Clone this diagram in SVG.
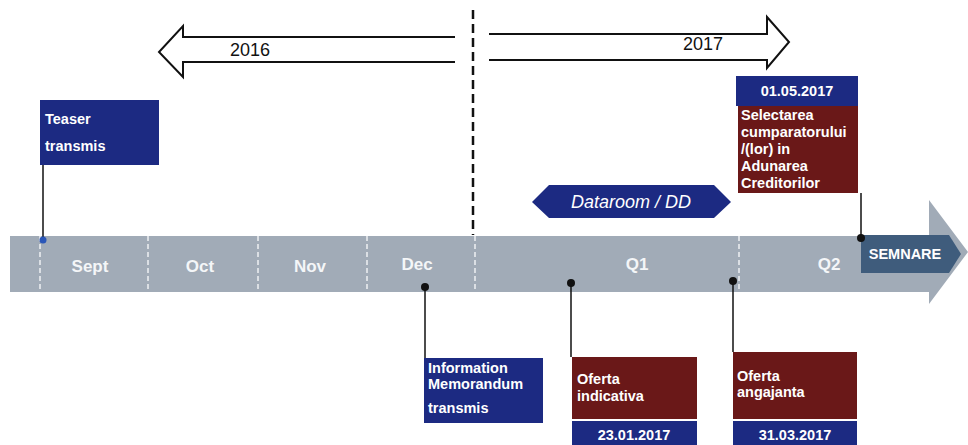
<svg xmlns="http://www.w3.org/2000/svg" width="968" height="445" viewBox="0 0 968 445">
<defs>
<style>
.t{font-family:"Liberation Sans",Arial,sans-serif;font-weight:bold;fill:#fff;font-size:14.5px}
.m{font-family:"Liberation Sans",Arial,sans-serif;font-weight:bold;fill:#f4f6f8;font-size:17px;text-anchor:middle}
.y{font-family:"Liberation Sans",Arial,sans-serif;fill:#111;font-size:18px;text-anchor:middle}
.navy{fill:#1c2a82}
.mar{fill:#6a1818}
.ln{stroke:#111;stroke-width:1.5;fill:none}
.div{stroke:#eef1f4;stroke-width:1.5;stroke-dasharray:5 3}
</style>
</defs>
<rect width="968" height="445" fill="#fff"/>
<g id="timeline">
<path d="M10,236 H929 V200 L968,252 L929,304 V292 H10 Z" fill="#a1abb7"/>
<line class="div" x1="40" y1="236" x2="40" y2="292"/>
<line class="div" x1="148" y1="236" x2="148" y2="292"/>
<line class="div" x1="258" y1="236" x2="258" y2="292"/>
<line class="div" x1="367" y1="236" x2="367" y2="292"/>
<line class="div" x1="475" y1="236" x2="475" y2="292"/>
<line class="div" x1="739" y1="236" x2="739" y2="292"/>
<text class="m" x="90" y="272">Sept</text>
<text class="m" x="200" y="272">Oct</text>
<text class="m" x="310" y="272">Nov</text>
<text class="m" x="417" y="270">Dec</text>
<text class="m" x="637" y="270">Q1</text>
<text class="m" x="829" y="270">Q2</text>
</g>
<g id="semnare">
<path d="M861,235 H949 L961,254 L949,273 H861 Z" fill="#3f5c7c"/>
<text class="t" x="905" y="259" text-anchor="middle" font-size="13">SEMNARE</text>
</g>
<g id="arrow2016">
<path d="M455,37 H183 V26 L159,52 L183,77 V62 H455" fill="#fff" stroke="#111" stroke-width="2"/>
<text class="y" x="250" y="56">2016</text>
</g>
<g id="arrow2017">
<path d="M489,34 H767 V17 L789,42 L767,68 V60 H489" fill="#fff" stroke="#111" stroke-width="2"/>
<text class="y" x="703" y="50">2017</text>
</g>
<g id="divider">
<line x1="473" y1="10" x2="473" y2="235" stroke="#111" stroke-width="2.5" stroke-dasharray="9 5"/>
</g>
<g id="dataroom">
<path d="M532,202 L549,185 H714 L731,202 L714,218 H549 Z" class="navy"/>
<text x="631" y="208" text-anchor="middle" font-family="'Liberation Sans',Arial,sans-serif" font-style="italic" font-size="18" fill="#fff">Dataroom / DD</text>
</g>
<g id="teaser">
<rect class="navy" x="40" y="100" width="119" height="65"/>
<text class="t" x="45" y="124">Teaser</text>
<text class="t" x="45" y="151">transmis</text>
</g>
<g id="selectarea">
<rect class="navy" x="736" y="76" width="122" height="30"/>
<text class="t" x="797" y="96" text-anchor="middle">01.05.2017</text>
<rect class="mar" x="738" y="106" width="120" height="87"/>
<text class="t" x="741" y="120">Selectarea</text>
<text class="t" x="741" y="137">cumparatorului</text>
<text class="t" x="741" y="154">/(lor) in</text>
<text class="t" x="741" y="171">Adunarea</text>
<text class="t" x="741" y="188">Creditorilor</text>
</g>
<g id="info-memo">
<rect class="navy" x="424" y="358" width="119" height="65"/>
<text class="t" x="428" y="373">Information</text>
<text class="t" x="428" y="389">Memorandum</text>
<text class="t" x="428" y="413">transmis</text>
</g>
<g id="oferta-indicativa">
<rect class="mar" x="572" y="357" width="125" height="62"/>
<text class="t" x="577" y="384">Oferta</text>
<text class="t" x="577" y="401">indicativa</text>
<rect class="navy" x="572" y="421" width="125" height="24"/>
<text class="t" x="634" y="440" text-anchor="middle">23.01.2017</text>
</g>
<g id="oferta-angajanta">
<rect class="mar" x="733" y="352" width="124" height="67"/>
<text class="t" x="737" y="381">Oferta</text>
<text class="t" x="737" y="397">angajanta</text>
<rect class="navy" x="733" y="421" width="124" height="24"/>
<text class="t" x="795" y="440" text-anchor="middle">31.03.2017</text>
</g>
<g id="connectors">
<line class="ln" x1="43" y1="165" x2="43" y2="240"/>
<circle cx="43" cy="240" r="3.5" fill="#2a56b8"/>
<line class="ln" x1="861" y1="193" x2="861" y2="238"/>
<circle cx="861" cy="238" r="4" fill="#111"/>
<line class="ln" x1="425" y1="287" x2="425" y2="358"/>
<circle cx="425" cy="287" r="4" fill="#111"/>
<line class="ln" x1="571" y1="283" x2="571" y2="357"/>
<circle cx="571" cy="283" r="4" fill="#111"/>
<line class="ln" x1="733" y1="281" x2="733" y2="352"/>
<circle cx="733" cy="281" r="4" fill="#111"/>
</g>
</svg>
